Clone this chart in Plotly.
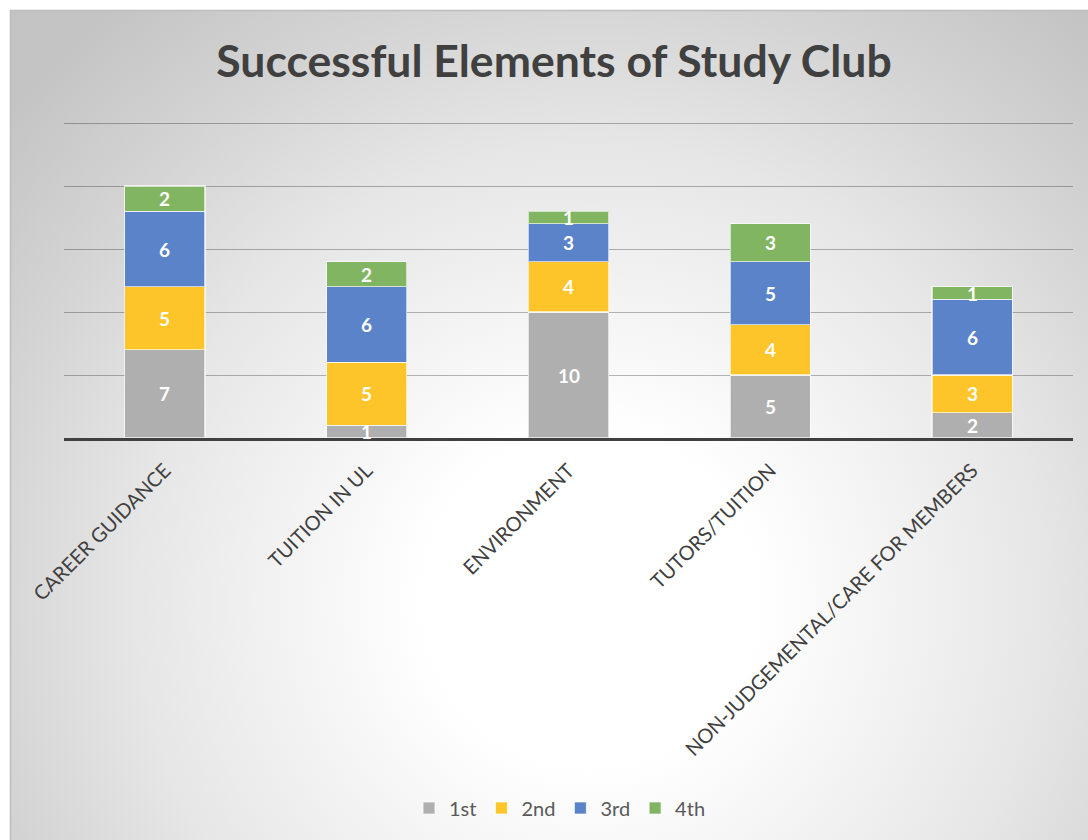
import base64
import plotly.graph_objects as go

# Survey results: ranking counts per element of the study club
categories = [
    "CAREER GUIDANCE",
    "TUITION IN UL",
    "ENVIRONMENT",
    "TUTORS/TUITION",
    "NON-JUDGEMENTAL/CARE FOR MEMBERS",
]
series_names = ["1st", "2nd", "3rd", "4th"]
first = [7, 1, 10, 5, 2]
second = [5, 5, 4, 4, 3]
third = [6, 6, 3, 5, 6]
fourth = [2, 2, 1, 3, 1]
y_ticks = [0, 5, 10, 15, 20, 25]

series_values = [first, second, third, fourth]
colors = ["#afafaf", "#fec52a", "#5b83c9", "#81b562"]

W, H = 1088, 840
L, R, T, B = 64, 15, 117, 402
PW, PH = W - L - R, H - T - B
PX_PER_UNIT = 12.6
Y_MAX = PH / PX_PER_UNIT  # a little headroom above the top gridline


def px_x(px):
    return (px - L) / PW


def px_y(py):
    return (H - B - py) / PH


fig = go.Figure()
for name, vals, col in zip(series_names, series_values, colors):
    fig.add_trace(go.Bar(
        x=categories, y=vals, name=name,
        marker=dict(color=col, line=dict(color="rgba(255,255,255,0.65)", width=1.2)),
        hoverinfo="x+y+name",
    ))

# value labels centred in each stacked segment
annotations = []
for ci, cat in enumerate(categories):
    base = 0
    for vals in series_values:
        v = vals[ci]
        annotations.append(dict(
            x=cat, y=base + v / 2, xref="x", yref="y", text=str(v),
            showarrow=False, font=dict(family="Lato", size=19, color="white", weight="bold"),
        ))
        base += v

# radial background behind the whole chart frame
svg = f'''<svg xmlns="http://www.w3.org/2000/svg" width="1078" height="830" viewBox="0 0 1078 830">
<defs><radialGradient id="g" gradientUnits="userSpaceOnUse" cx="580" cy="590" r="760">
<stop offset="0" stop-color="#ffffff"/>
<stop offset="0.22" stop-color="#ffffff"/>
<stop offset="0.6" stop-color="#e6e6e6"/>
<stop offset="0.8" stop-color="#d4d4d4"/>
<stop offset="1" stop-color="#c4c4c4"/>
</radialGradient></defs>
<rect x="0" y="0" width="1078" height="830" fill="url(#g)"/>
</svg>'''
src = "data:image/svg+xml;base64," + base64.b64encode(svg.encode()).decode()

fig.update_layout(
    width=W, height=H,
    margin=dict(l=L, r=R, t=T, b=B, pad=0),
    barmode="stack",
    bargap=0.603,
    paper_bgcolor="white",
    plot_bgcolor="rgba(0,0,0,0)",
    font=dict(family="Lato", color="#595959"),
    title=dict(
        text="<b>Successful Elements of Study Club</b>",
        x=554 / W, xanchor="center", y=1 - 61 / H, yanchor="middle",
        font=dict(family="Lato", size=44.5, color="#404040"),
    ),
    xaxis=dict(
        tickangle=-45, tickfont=dict(family="Lato", size=20, color="#404040"),
        showline=True, linecolor="#404040", linewidth=3,
        ticks="outside", ticklen=10, tickcolor="rgba(0,0,0,0)", showgrid=False,
    ),
    yaxis=dict(
        range=[0, Y_MAX], tickvals=y_ticks, showticklabels=False,
        showgrid=True, gridcolor="rgba(0,0,0,0.28)", gridwidth=1.3,
        zeroline=False, showline=False, ticks="",
    ),
    legend=dict(
        orientation="h", x=px_x(560), xanchor="center", y=px_y(808), yanchor="middle",
        font=dict(family="Lato", size=20, color="#595959"),
        bgcolor="rgba(0,0,0,0)", traceorder="normal",
        itemclick=False, itemdoubleclick=False,
    ),
    images=[dict(
        source=src, xref="paper", yref="paper",
        x=px_x(10), y=px_y(10), sizex=(W - 10) / PW, sizey=(H - 10) / PH,
        xanchor="left", yanchor="top", sizing="stretch", layer="below",
    )],
    shapes=[dict(
        type="rect", xref="paper", yref="paper",
        x0=px_x(10.5), y0=px_y(H + 2), x1=px_x(W + 2), y1=px_y(10.5),
        line=dict(color="#bdbdbd", width=1.5), fillcolor="rgba(0,0,0,0)", layer="below",
    )],
    annotations=annotations,
)

fig.write_html("out.html")
